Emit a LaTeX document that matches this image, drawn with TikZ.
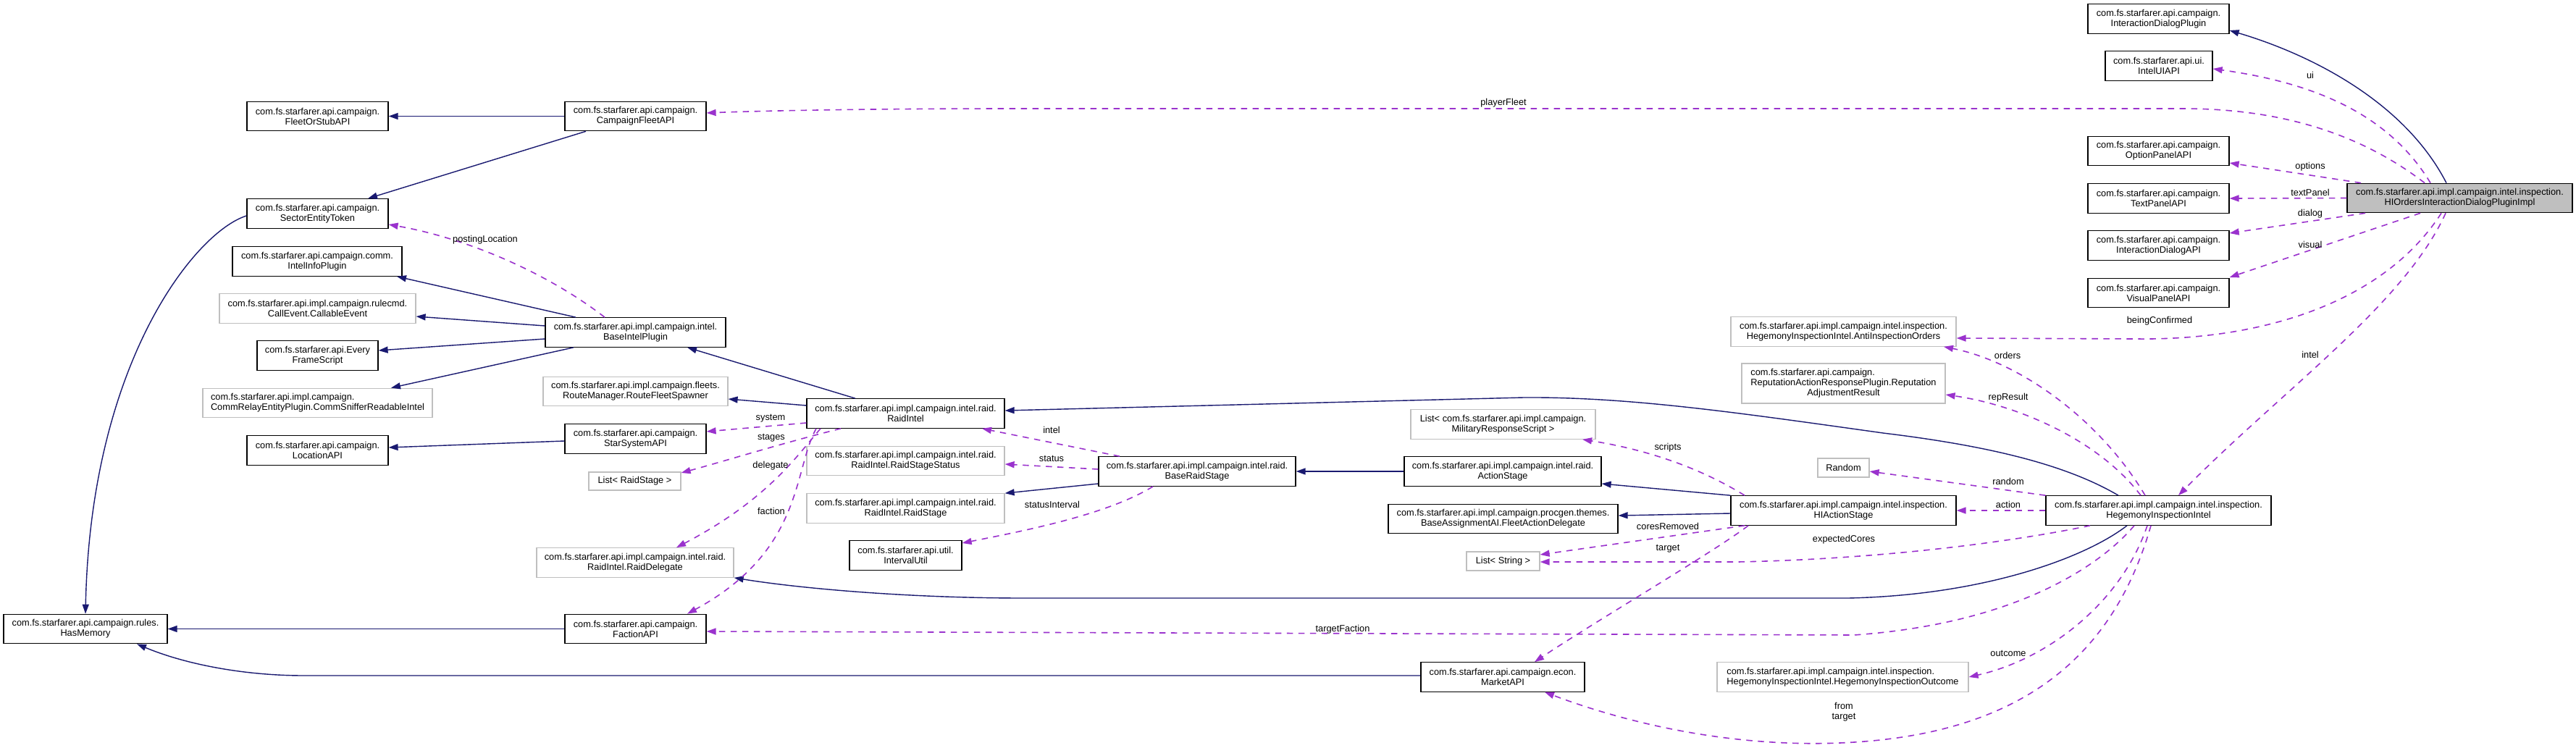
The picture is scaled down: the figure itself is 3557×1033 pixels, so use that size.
\documentclass[tikz,border=0pt]{standalone}
\usepackage{fontspec}
\setmainfont{Liberation Sans}
\usetikzlibrary{arrows.meta,calc}
\definecolor{navy}{HTML}{191970}
\definecolor{orch}{HTML}{9A32CD}
\definecolor{gbord}{HTML}{BFBFBF}
\begin{document}
\begin{tikzpicture}[x=1pt,y=-1pt,
  font=\fontsize{12.8}{14}\selectfont,
  cls/.style={draw=black, line width=1.2pt, rectangle, inner sep=0pt, align=center, minimum height=40.5pt},
  ext/.style={cls, draw=gbord},
  cur/.style={cls, fill=gbord},
  inh/.style={draw=navy, line width=1.4pt, -{Triangle[length=13pt,width=9pt]}},
  use/.style={draw=orch, line width=1.6pt, dash pattern=on 8.5pt off 7.5pt, -{Triangle[length=13pt,width=9pt]}},
  lbl/.style={inner sep=0pt, text=black}]
\useasboundingbox[fill=white] (0,0) rectangle (3557,1033);

% ---------- nodes ----------
\node[cur, minimum width=311pt] (main) at (3396.5,273.5) {com.fs.starfarer.api.impl.campaign.intel.inspection.\\HIOrdersInteractionDialogPluginImpl};
\node[cls, minimum width=195pt] (idp) at (2980.5,26) {com.fs.starfarer.api.campaign.\\InteractionDialogPlugin};
\node[cls, minimum width=148pt] (intelui) at (2981,91) {com.fs.starfarer.api.ui.\\IntelUIAPI};
\node[cls, minimum width=195pt] (optp) at (2980.5,208.5) {com.fs.starfarer.api.campaign.\\OptionPanelAPI};
\node[cls, minimum width=195pt] (textp) at (2980.5,274) {com.fs.starfarer.api.campaign.\\TextPanelAPI};
\node[cls, minimum width=195pt] (idapi) at (2980.5,339) {com.fs.starfarer.api.campaign.\\InteractionDialogAPI};
\node[cls, minimum width=195pt] (visp) at (2980.5,404.5) {com.fs.starfarer.api.campaign.\\VisualPanelAPI};

\node[cls, minimum width=195pt] (fos) at (438.5,160.5) {com.fs.starfarer.api.campaign.\\FleetOrStubAPI};
\node[cls, minimum width=195pt] (cfa) at (877.5,160.5) {com.fs.starfarer.api.campaign.\\CampaignFleetAPI};
\node[cls, minimum width=195pt] (set) at (438.5,295) {com.fs.starfarer.api.campaign.\\SectorEntityToken};
\node[cls, minimum width=234pt] (iip) at (438,361) {com.fs.starfarer.api.campaign.comm.\\IntelInfoPlugin};
\node[ext, minimum width=271pt] (ce) at (438.5,426) {com.fs.starfarer.api.impl.campaign.rulecmd.\\CallEvent.CallableEvent};
\node[cls, minimum width=167pt] (efs) at (438.5,491) {com.fs.starfarer.api.Every\\FrameScript};
\node[ext, minimum width=317pt, align=left] (csri) at (438.5,556.5) {com.fs.starfarer.api.impl.campaign.\\CommRelayEntityPlugin.CommSnifferReadableIntel};
\node[cls, minimum width=195pt] (loc) at (438.5,622) {com.fs.starfarer.api.campaign.\\LocationAPI};
\node[cls, minimum width=226pt] (hm) at (118,868.5) {com.fs.starfarer.api.campaign.rules.\\HasMemory};

\node[cls, minimum width=249pt] (bip) at (877.5,459) {com.fs.starfarer.api.impl.campaign.intel.\\BaseIntelPlugin};
\node[ext, minimum width=255pt] (rfs) at (877.5,540.5) {com.fs.starfarer.api.impl.campaign.fleets.\\RouteManager.RouteFleetSpawner};
\node[cls, minimum width=195pt] (ssa) at (877.5,606) {com.fs.starfarer.api.campaign.\\StarSystemAPI};
\node[ext, minimum width=127pt, minimum height=25pt] (lrs) at (876.5,664.5) {List< RaidStage >};
\node[ext, minimum width=272pt] (rdel) at (877,777) {com.fs.starfarer.api.impl.campaign.intel.raid.\\RaidIntel.RaidDelegate};
\node[cls, minimum width=195pt] (fac) at (877.5,868.5) {com.fs.starfarer.api.campaign.\\FactionAPI};

\node[cls, minimum width=273pt] (ri) at (1250.5,571) {com.fs.starfarer.api.impl.campaign.intel.raid.\\RaidIntel};
\node[ext, minimum width=273pt] (rss) at (1250.5,636.5) {com.fs.starfarer.api.impl.campaign.intel.raid.\\RaidIntel.RaidStageStatus};
\node[ext, minimum width=273pt] (rst) at (1250.5,702) {com.fs.starfarer.api.impl.campaign.intel.raid.\\RaidIntel.RaidStage};
\node[cls, minimum width=155pt] (iu) at (1250.5,767) {com.fs.starfarer.api.util.\\IntervalUtil};
\node[cls, minimum width=272pt] (brs) at (1653,651) {com.fs.starfarer.api.impl.campaign.intel.raid.\\BaseRaidStage};

\node[ext, minimum width=255pt] (lmrs) at (2075.5,586) {List< com.fs.starfarer.api.impl.campaign.\\MilitaryResponseScript >};
\node[cls, minimum width=272pt] (actst) at (2075,651) {com.fs.starfarer.api.impl.campaign.intel.raid.\\ActionStage};
\node[cls, minimum width=317pt] (fad) at (2075.5,716.5) {com.fs.starfarer.api.impl.campaign.procgen.themes.\\BaseAssignmentAI.FleetActionDelegate};
\node[ext, minimum width=101pt, minimum height=26pt] (lstr) at (2075.5,775) {List< String >};
\node[cls, minimum width=226pt] (mkt) at (2075,935) {com.fs.starfarer.api.campaign.econ.\\MarketAPI};

\node[ext, minimum width=311pt] (aio) at (2545.5,458) {com.fs.starfarer.api.impl.campaign.intel.inspection.\\HegemonyInspectionIntel.AntiInspectionOrders};
\node[ext, minimum width=281pt, minimum height=55pt] (rar) at (2545.5,529.5) {\begin{tabular}{@{}l@{}}com.fs.starfarer.api.campaign.\\ReputationActionResponsePlugin.Reputation\\\multicolumn{1}{@{}c@{}}{AdjustmentResult}\end{tabular}};
\node[ext, minimum width=71pt, minimum height=26pt] (rnd) at (2545.5,646) {Random};
\node[cls, minimum width=311pt] (hias) at (2545.5,705) {com.fs.starfarer.api.impl.campaign.intel.inspection.\\HIActionStage};
\node[ext, minimum width=347pt, align=left] (hio) at (2544.5,935) {com.fs.starfarer.api.impl.campaign.intel.inspection.\\HegemonyInspectionIntel.HegemonyInspectionOutcome};
\node[cls, minimum width=311pt] (hii) at (2980.5,705) {com.fs.starfarer.api.impl.campaign.intel.inspection.\\HegemonyInspectionIntel};

% ---------- inheritance ----------
\draw[inh] ($(main.north)+(-18.5,0)$) .. controls (3320,140) and (3190,75) .. ($(idp.east)+(0,16)$);
\draw[inh] (cfa.west) -- (fos.east);
\draw[inh] ($(cfa.south)+(-68.5,0)$) -- ($(set.north)+(69.5,0)$);
\draw[inh] ($(set.west)+(0,3)$) .. controls (270,320) and (125,500) .. (hm.north);
\draw[inh] ($(bip.north)+(-82.5,0)$) -- ($(iip.south)+(110,0)$);
\draw[inh] ($(bip.west)+(0,-9)$) -- ($(ce.east)+(0,11)$);
\draw[inh] ($(bip.west)+(0,9)$) -- ($(efs.east)+(0,-7)$);
\draw[inh] ($(bip.south)+(-85.5,0)$) -- ($(csri.north)+(101.5,0)$);
\draw[inh] ($(ri.north)+(-69.5,0)$) -- ($(bip.south)+(71.5,0)$);
\draw[inh] ($(ri.west)+(0,-11)$) -- ($(rfs.east)+(0,10.5)$);
\draw[inh] ($(ssa.west)+(0,3)$) -- ($(loc.east)+(0,-4)$);
\draw[inh] ($(brs.west)+(0,17)$) -- (rst.north east);
\draw[inh] (actst.west) -- (brs.east);
\draw[inh] (hias.north west) -- ($(actst.east)+(0,17)$);
\draw[inh] ($(hias.west)+(0,4)$) -- ($(fad.east)+(0,-4.5)$);
\draw[inh] ($(hii.north)+(-55.5,0)$) .. controls (2850,640) and (2740,615) .. (2600,598) .. controls (2400,570) and (2250,548) .. (2104,549) -- ($(ri.east)+(0,-4)$);
\draw[inh] ($(hii.south)+(-43.5,0)$) .. controls (2880,770) and (2740,822) .. (2552,826) -- (1414,826) .. controls (1250,826) and (1100,812) .. (rdel.south east);
\draw[inh] (fac.west) -- (hm.east);
\draw[inh] ($(mkt.west)+(0,-2)$) -- (420,933) .. controls (330,933) and (250,915) .. ($(hm.south)+(71,0)$);

% ---------- usage ----------
\draw[use] ($(main.north)+(-48.5,0)$) .. controls (3260,185) and (3150,150) .. (3014,150) -- (1400,150) .. controls (1200,150) and (1050,153) .. ($(cfa.east)+(0,-4.5)$);
\draw[use] ($(main.north)+(-40.5,0)$) .. controls (3300,160) and (3200,115) .. ($(intelui.east)+(0,4)$);
\draw[use] ($(main.north)+(-136.5,0)$) -- ($(optp.east)+(0,16.5)$);
\draw[use] (main.west) -- (textp.east);
\draw[use] ($(main.south)+(-130.5,0)$) -- ($(idapi.east)+(0,-17)$);
\draw[use] ($(main.south)+(-54.5,0)$) -- ($(visp.east)+(0,-21.5)$);
\draw[use] ($(main.south)+(-25.5,0)$) .. controls (3290,420) and (3120,470) .. (2950,468) -- ($(aio.east)+(0,9)$);
\draw[use] ($(main.south)+(-19.5,0)$) .. controls (3320,420) and (3150,540) .. ($(hii.north)+(27.5,0)$);
\draw[use] ($(hii.north)+(-18.5,0)$) .. controls (2900,580) and (2790,500) .. ($(aio.south)+(138.5,0)$);
\draw[use] ($(hii.north)+(-24.5,0)$) .. controls (2900,610) and (2790,560) .. ($(rar.east)+(0,15.5)$);
\draw[use] (hii.north west) -- ($(rnd.east)+(0,5)$);
\draw[use] (hii.west) -- (hias.east);
\draw[use] ($(hii.south)+(-94.5,0)$) .. controls (2780,748) and (2600,772) .. (2400,776) -- ($(lstr.east)+(0,1)$);
\draw[use] ($(hii.south)+(-33.5,0)$) .. controls (2910,770) and (2800,860) .. (2560,877) -- ($(fac.east)+(0,3.5)$);
\draw[use] ($(hii.south)+(-15.5,0)$) .. controls (2930,830) and (2830,910) .. (hio.east);
\draw[use] ($(hii.south)+(-10.5,0)$) .. controls (2920,900) and (2800,1010) .. (2560,1025) .. controls (2400,1035) and (2250,1000) .. ($(mkt.south)+(58,0)$);
\draw[use] ($(hias.south)+(-136.5,0)$) -- ($(lstr.east)+(0,-9)$);
\draw[use] ($(hias.south)+(-131.5,0)$) .. controls (2370,760) and (2200,860) .. ($(mkt.north)+(44,0)$);
\draw[use] ($(hias.north)+(-136.5,0)$) .. controls (2370,660) and (2300,625) .. ($(lmrs.south)+(109.5,0)$);
\draw[use] ($(brs.north)+(-107,0)$) -- ($(ri.south)+(105.5,0)$);
\draw[use] ($(brs.west)+(0,-3)$) -- ($(rss.east)+(0,4.5)$);
\draw[use] ($(brs.south)+(-61,0)$) .. controls (1530,710) and (1420,732) .. ($(iu.east)+(0,-17)$);
\draw[use] ($(ri.west)+(0,13)$) -- ($(ssa.east)+(0,-10)$);
\draw[use] ($(ri.south)+(-89.5,0)$) .. controls (1080,612) and (1000,637) .. ($(lrs.east)+(0,-11.5)$);
\draw[use] ($(ri.south)+(-117.5,0)$) .. controls (1100,630) and (1060,690) .. ($(rdel.north)+(57,0)$);
\draw[use] ($(ri.south)+(-123.5,0)$) .. controls (1095,650) and (1110,760) .. ($(fac.north)+(71.5,0)$);
\draw[use] ($(bip.north)+(-42.5,0)$) .. controls (760,380) and (650,330) .. ($(set.east)+(0,15)$);

% ---------- labels ----------
\node[lbl] (lPlayerFleet) at (2076,142) {playerFleet};
\node[lbl] (lUi) at (3190,104) {ui};
\node[lbl] (lOptions) at (3190,230) {options};
\node[lbl] (lTextPanel) at (3190,266) {textPanel};
\node[lbl] (lDialog) at (3190,295) {dialog};
\node[lbl] (lVisual) at (3190,338) {visual};
\node[lbl] (lBeing) at (2982,443) {beingConfirmed};
\node[lbl] (lIntelA) at (3190,490) {intel};
\node[lbl] (lOrders) at (2772,491) {orders};
\node[lbl] (lRep) at (2773,549) {repResult};
\node[lbl] (lRandom) at (2773,665) {random};
\node[lbl] (lAction) at (2773,697) {action};
\node[lbl] (lExpected) at (2546,745) {expectedCores};
\node[lbl] (lTargetFaction) at (1854,869) {targetFaction};
\node[lbl] (lOutcome) at (2773,902) {outcome};
\node[lbl, align=center] (lFrom) at (2546,983) {from\\target};
\node[lbl] (lCores) at (2303,727) {coresRemoved};
\node[lbl] (lTarget) at (2303,758) {target};
\node[lbl] (lScripts) at (2303,618) {scripts};
\node[lbl] (lIntelB) at (1452,594) {intel};
\node[lbl] (lStatus) at (1452,633) {status};
\node[lbl] (lStatusInt) at (1453,697) {statusInterval};
\node[lbl] (lSystem) at (1064,578) {system};
\node[lbl] (lStages) at (1065,605) {stages};
\node[lbl] (lDelegate) at (1064,643) {delegate};
\node[lbl] (lFaction) at (1065,706) {faction};
\node[lbl] (lPosting) at (670,331) {postingLocation};
\end{tikzpicture}
\end{document}
